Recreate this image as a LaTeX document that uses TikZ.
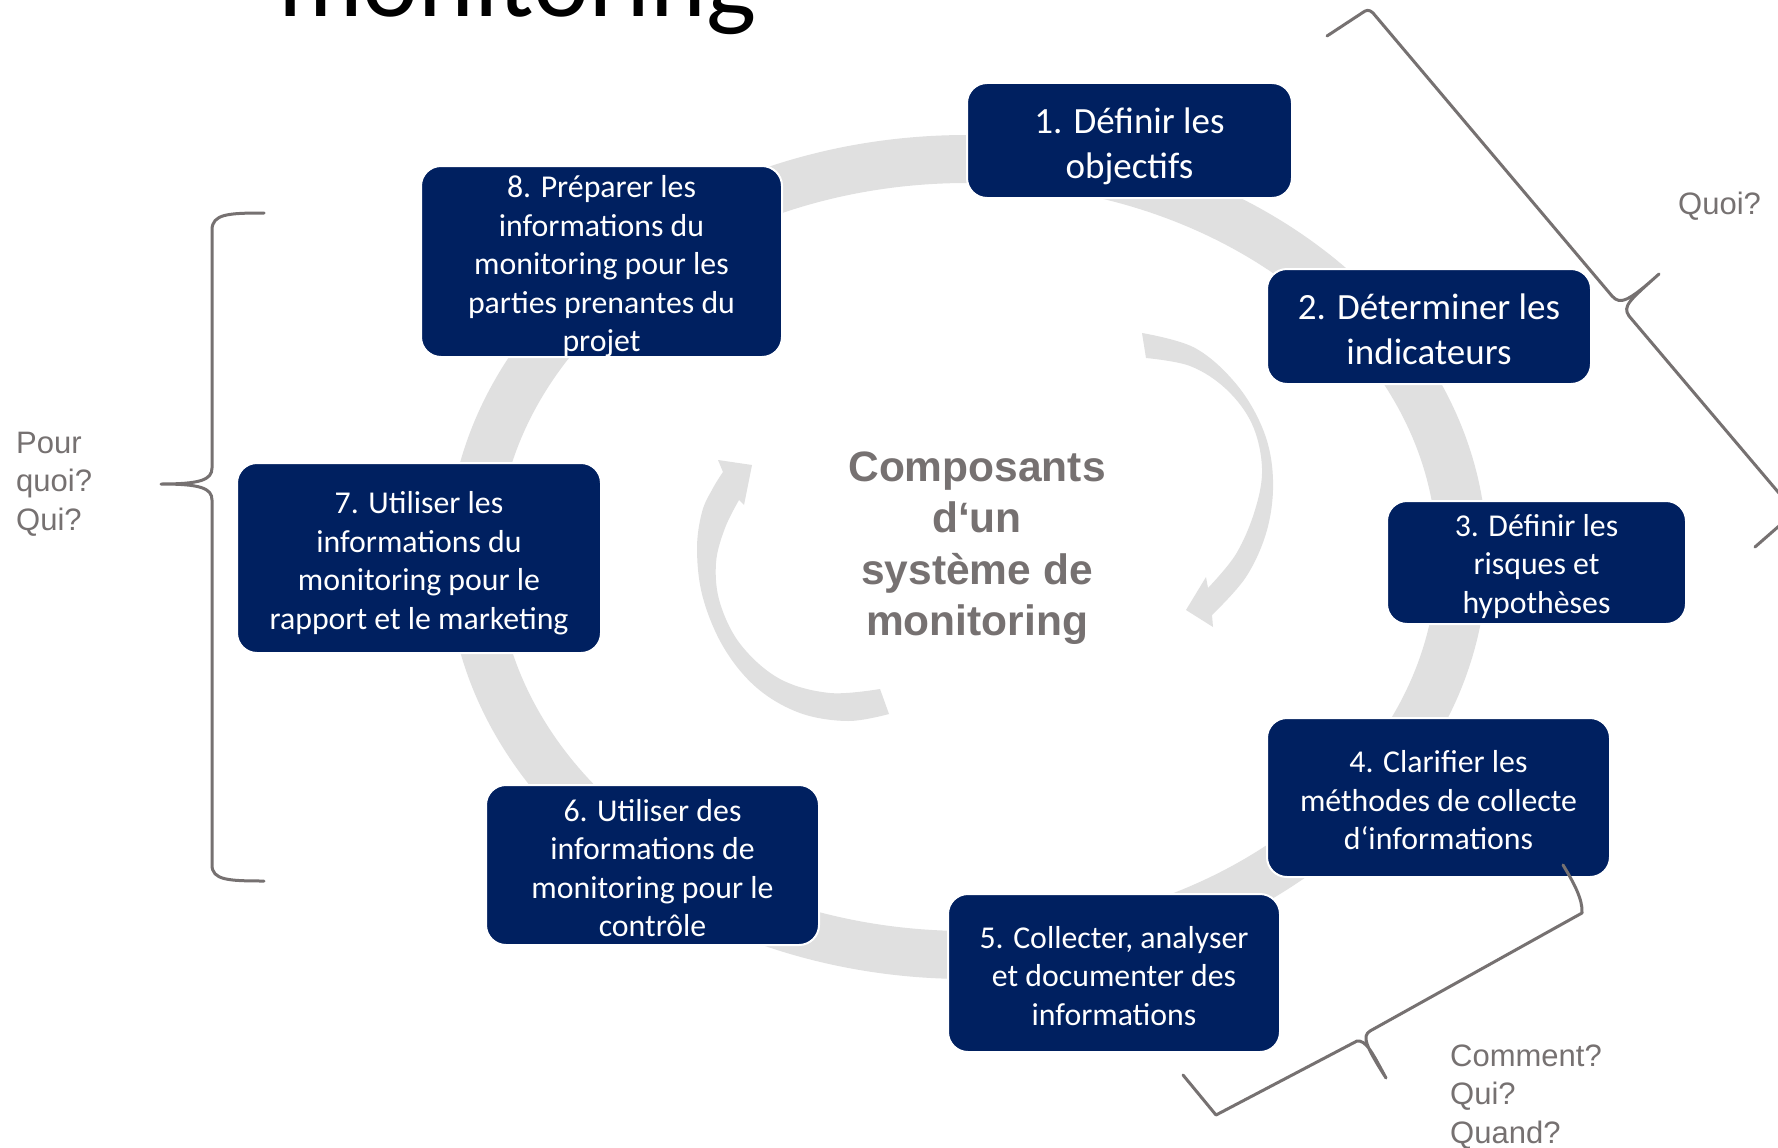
\documentclass[tikz,border=0pt]{standalone}
\usepackage{fontspec}
\setmainfont{Carlito}
\newfontfamily\arialf{Liberation Sans}
\definecolor{navy}{RGB}{0,32,96}
\definecolor{ringgray}{RGB}{224,224,224}
\definecolor{labelgray}{RGB}{118,113,113}
\definecolor{bracegray}{RGB}{118,113,113}
\tikzset{
  stepbox/.style={fill=navy, draw=white, line width=2pt, rounded corners=20pt, inner sep=0pt},
  steptxt/.style={text=white, align=center, inner sep=0pt},
  bigtxt/.style={font=\fontsize{37}{45}\selectfont},
  smalltxt/.style={font=\fontsize{31.8}{38.5}\selectfont},
  lbl/.style={text=labelgray, font=\arialf\fontsize{31}{38.5}\selectfont, align=left, inner sep=0pt},
  brace/.style={draw=bracegray, line width=3pt, line join=round, line cap=round},
  centertxt/.style={text=labelgray, font=\arialf\bfseries\fontsize{42.5}{51.5}\selectfont, align=center, inner sep=0pt}
}
\begin{document}
\begin{tikzpicture}[x=1pt, y=-1pt]
\useasboundingbox (0,0) rectangle (1778,1148);
\fill[white] (0,0) rectangle (1778,1148);
\clip (0,0) rectangle (1778,1148);

% title (cut at the top)
\node[anchor=base west, inner sep=0pt, font=\fontsize{106}{112}\selectfont] (title) at (278,17) {monitoring};

% ring
\fill[ringgray, even odd rule] (967,557) ellipse [x radius=520, y radius=422]
                               (967,557) ellipse [x radius=470, y radius=374];

% centre arrows
\fill[ringgray] plot[smooth, tension=0.6] coordinates {(1142,333) (1195,348) (1237,385) (1264,432) (1273,480) (1267,530) (1246,577) (1212,615)}
  -- (1213,627) -- (1186,610) -- (1206,577)
  -- plot[smooth, tension=0.6] coordinates {(1208,588) (1236,554) (1255,510) (1262,468) (1252,424) (1226,389) (1190,366) (1146,358)} -- cycle;
\fill[ringgray] plot[smooth, tension=0.6] coordinates {(889,714) (848,721) (800,713) (757,688) (724,648) (703,598) (697,550) (702,512) (713,488) (723,472)}
  -- (718,460) -- (752,465) -- (744,505)
  -- plot[smooth, tension=0.6] coordinates {(739,500) (725,528) (716,563) (720,603) (741,645) (780,679) (830,693) (880,689)} -- cycle;

% centre text
\node[centertxt] (ctr) at (977,548) {Composants\\d‘un\\système de\\monitoring};

% steps
\node[stepbox, minimum width=325, minimum height=115] (s1) at (1129.5,140.5) {};
\node[stepbox, minimum width=324, minimum height=115] (s2) at (1429,326.5) {};
\node[stepbox, minimum width=299, minimum height=123] (s3) at (1536.5,562.5) {};
\node[stepbox, minimum width=343, minimum height=159] (s4) at (1438.5,797.5) {};
\node[stepbox, minimum width=332, minimum height=158] (s5) at (1114,973) {};
\node[stepbox, minimum width=333, minimum height=160] (s6) at (652.5,865) {};
\node[stepbox, minimum width=364, minimum height=190] (s7) at (419,558) {};
\node[stepbox, minimum width=361, minimum height=191] (s8) at (601.5,261.5) {};

\node[steptxt, bigtxt] (t1) at ([yshift=-6pt]s1.center) {1. Définir les\\objectifs};
\node[steptxt, bigtxt] (t2) at ([yshift=-3pt]s2.center) {2. Déterminer les\\indicateurs};
\node[steptxt, smalltxt] (t3) at ([yshift=-4pt]s3.center) {3. Définir les\\risques et\\hypothèses};
\node[steptxt, smalltxt] (t4) at ([yshift=-3pt]s4.center) {4. Clarifier les\\méthodes de collecte\\d‘informations};
\node[steptxt, smalltxt] (t5) at ([yshift=-3pt]s5.center) {5. Collecter, analyser\\et documenter des\\informations};
\node[steptxt, smalltxt] (t6) at ([yshift=-3pt]s6.center) {6. Utiliser des\\informations de\\monitoring pour le\\contrôle};
\node[steptxt, smalltxt] (t7) at ([yshift=-5pt]s7.center) {7. Utiliser les\\informations du\\monitoring pour le\\rapport et le marketing};
\node[steptxt, smalltxt] (t8) at ([yshift=-5pt]s8.center) {8. Préparer les\\informations du\\monitoring pour les\\parties prenantes du\\projet};

% braces
\draw[brace] (264,213) .. controls (228,213) and (212,214) .. (212,230) -- (212,468)
  .. controls (212,480) and (200,484) .. (161,484)
  .. controls (200,484) and (212,488) .. (212,500) -- (212,865)
  .. controls (212,880) and (228,881) .. (264,881);
\draw[brace] (1327,36) -- (1362,13) .. controls (1366,10) and (1369,9) .. (1373,13) -- (1612,296)
  .. controls (1620,305) and (1628,302) .. (1659,274)
  .. controls (1630,300) and (1622,306) .. (1629,316) -- (1795,512) -- (1755,547);
\draw[brace] (1563,865) .. controls (1574,883) and (1583,900) .. (1582,913) -- (1370,1031)
  .. controls (1362,1036) and (1365,1045) .. (1386,1078)
  .. controls (1372,1052) and (1366,1040) .. (1357,1041) -- (1216,1115) -- (1183,1075);

% labels
\node[lbl, anchor=west] (quoi) at (1678,206) {Quoi?};
\node[lbl, anchor=west] (comment) at (1450,1097) {Comment?\\Qui?\\Quand?};
\node[lbl, anchor=west] (pour) at (16,484) {Pour\\quoi?\\Qui?};
\end{tikzpicture}
\end{document}
